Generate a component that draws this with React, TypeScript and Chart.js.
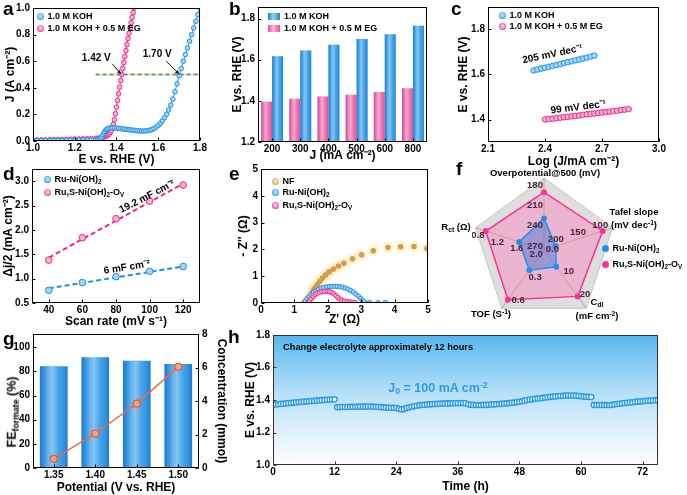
import React, { useEffect, useRef } from "react";
import { Chart, registerables } from "chart.js";

Chart.register(...registerables);

const SANS = '"Liberation Sans", Arial, Helvetica, sans-serif';
Chart.defaults.font.family = SANS;
Chart.defaults.color = "#000";

/* ======================= DATA ======================= */
// (a) polarisation curves
const aKohE = [1.00,1.02,1.04,1.06,1.08,1.10,1.12,1.14,1.16,1.18,1.20,1.22,1.24,1.26,1.28,1.30,1.31,1.32,1.325,1.33,1.335,1.34,1.345,1.35,1.355,1.36,1.37,1.38,1.39,1.40,1.41,1.42,1.43,1.44,1.45,1.46,1.47,1.48,1.49,1.50,1.51,1.52,1.53,1.54,1.55,1.56,1.57,1.58,1.59,1.60,1.61,1.62,1.63,1.64,1.65,1.66,1.67,1.68,1.69,1.70,1.71,1.72,1.73,1.74,1.75,1.76,1.77,1.78,1.79,1.80];
const aKohJ = [0.004,0.004,0.004,0.005,0.005,0.005,0.005,0.005,0.006,0.006,0.006,0.006,0.007,0.007,0.007,0.008,0.009,0.012,0.020,0.032,0.048,0.062,0.074,0.083,0.090,0.095,0.099,0.100,0.099,0.097,0.095,0.093,0.091,0.089,0.087,0.085,0.083,0.081,0.079,0.077,0.076,0.075,0.075,0.076,0.078,0.081,0.086,0.094,0.104,0.117,0.133,0.152,0.175,0.202,0.233,0.270,0.315,0.370,0.430,0.490,0.545,0.600,0.650,0.700,0.750,0.800,0.850,0.900,0.950,1.000];
const aEgE = [1.00,1.02,1.04,1.06,1.08,1.10,1.12,1.14,1.16,1.18,1.20,1.22,1.24,1.26,1.28,1.30,1.31,1.32,1.33,1.34,1.345,1.35,1.355,1.36,1.365,1.37,1.375,1.38,1.385,1.39,1.395,1.40,1.405,1.41,1.415,1.42,1.425,1.43,1.435,1.44,1.445,1.45,1.455,1.46,1.465,1.47,1.475,1.48,1.485];
const aEgJ = [0.008,0.008,0.009,0.009,0.010,0.010,0.011,0.011,0.012,0.013,0.014,0.015,0.016,0.017,0.018,0.020,0.021,0.022,0.025,0.030,0.033,0.036,0.040,0.045,0.052,0.063,0.078,0.098,0.125,0.160,0.205,0.255,0.305,0.355,0.405,0.455,0.500,0.545,0.590,0.635,0.680,0.725,0.770,0.810,0.850,0.890,0.930,0.965,1.000];
const aRefE = [1.30, 1.80];
const aRefJ = [0.5, 0.5];
const aTicksE = [1.0, 1.2, 1.4, 1.6, 1.8];
const aTicksJ = [0, 0.2, 0.4, 0.6, 0.8, 1.0];

// (b) potentials at current densities
const bCurrents = ["200", "300", "400", "500", "600", "800"];
const bKoh = [1.617, 1.645, 1.673, 1.700, 1.723, 1.765];
const bEg = [1.396, 1.410, 1.421, 1.430, 1.443, 1.461];
const bTicksE = [1.2, 1.4, 1.6, 1.8];

// (c) Tafel plots
const cKohLog = [2.34,2.36,2.38,2.40,2.42,2.44,2.46,2.48,2.50,2.52,2.54,2.56,2.58,2.60,2.62,2.64,2.66];
const cKohE = [1.618,1.622,1.626,1.630,1.634,1.638,1.642,1.646,1.651,1.655,1.659,1.663,1.667,1.671,1.675,1.680,1.684];
const cEgLog = [2.40,2.42,2.44,2.46,2.48,2.50,2.52,2.54,2.56,2.58,2.60,2.62,2.64,2.66,2.68,2.70,2.72,2.74,2.76,2.78,2.80,2.82,2.84];
const cEgE = [1.400,1.402,1.404,1.406,1.408,1.410,1.412,1.414,1.416,1.418,1.421,1.423,1.425,1.427,1.429,1.431,1.433,1.435,1.437,1.439,1.442,1.444,1.446];
const cTicksLog = [2.1, 2.4, 2.7, 3.0];
const cTicksE = [1.4, 1.6, 1.8];

// (d) double-layer capacitance
const dScanRates = [40, 60, 80, 100, 120];
const dRuNi = [0.76, 0.92, 1.04, 1.15, 1.25];
const dRuS = [1.38, 1.84, 2.23, 2.59, 2.92];
const dFitRates = [40, 120];
const dFitRuNi = [0.80, 1.25];
const dFitRuS = [1.43, 2.95];
const dTicksRate = [40, 60, 80, 100, 120];
const dTicksJ = [0.5, 1.0, 1.5, 2.0, 2.5, 3.0];

// (e) Nyquist plots
const eNfRe = [1.38,1.41,1.44,1.47,1.50,1.54,1.58,1.63,1.69,1.76,1.84,1.93,2.04,2.17,2.32,2.48,2.74,3.01,3.36,3.80,4.18,4.58,4.97];
const eNfIm = [0.00,0.07,0.15,0.23,0.31,0.40,0.49,0.59,0.70,0.81,0.93,1.04,1.16,1.27,1.38,1.48,1.65,1.80,1.95,2.07,2.10,2.11,2.03];
const eRuNiRe = [1.28,1.33,1.38,1.44,1.50,1.57,1.64,1.72,1.80,1.88,1.96,2.04,2.12,2.20,2.28,2.36,2.44,2.52,2.60,2.68,2.76,2.84,2.92,2.98,3.04,3.10,3.25,3.50,3.72];
const eRuNiIm = [0.00,0.08,0.16,0.24,0.32,0.39,0.45,0.51,0.55,0.58,0.60,0.615,0.62,0.625,0.62,0.61,0.59,0.56,0.52,0.47,0.41,0.33,0.25,0.17,0.09,0.04,0.02,0.01,0.02];
const eRuSRe = [1.40,1.45,1.50,1.56,1.62,1.68,1.75,1.82,1.90,1.98,2.05,2.12,2.18,2.24,2.30,2.36,2.42,2.50,2.58,2.66,2.74,2.82];
const eRuSIm = [0.00,0.08,0.16,0.24,0.31,0.36,0.40,0.42,0.43,0.43,0.42,0.39,0.34,0.28,0.21,0.15,0.10,0.07,0.05,0.04,0.03,0.02];
const eTicks = [0, 1, 2, 3, 4, 5];

// (f) radar comparison
const fAxisNames = ["Overpotential@500 (mV)", "Tafel slope (mV dec⁻¹)", "Cdl (mF cm⁻²)", "TOF (S⁻¹)", "Rct (Ω)"];
const fRuNi = [229, 205, 6, 0.26, 1.63];
const fRuS = [190, 99, 19.2, 0.64, 0.94];
const fAxisCenter = [276, 231, -1.5, 0, 2.14];
const fAxisOuter = [169, 77, 24.5, 0.75, 0.73];
const fTickValues = [[270, 240, 210, 180], [200, 150, 100], [0, 10, 20], [0.3, 0.6], [2.0, 1.6, 1.2, 0.8]];
const fTickLabels = [["270", "240", "210", "180"], ["200", "150", "100"], ["0.0", "10", "20"], ["0.3", "0.6"], ["2.0", "1.6", "1.2", "0.8"]];

// (g) Faradaic efficiency & concentration
const gPotentials = ["1.35", "1.40", "1.45", "1.50"];
const gFE = [84.2, 91.8, 88.8, 86.1];
const gConc = [0.55, 2.06, 3.84, 6.04];
const gTicksFE = [0, 20, 40, 60, 80, 100];
const gTicksConc = [0, 2, 4, 6, 8];

// (h) stability test (one reading every half hour)
const hInterval = 0.5;
const hVoltage = [
  1.370,1.372,1.374,1.376,1.377,1.379,1.381,1.382,1.384,1.385,1.387,1.388,1.390,1.391,1.392,1.394,1.395,1.396,1.398,1.399,1.400,1.401,1.402,1.403,1.404,
  1.356,1.356,1.357,1.357,1.357,1.358,1.358,1.358,1.358,1.359,1.359,1.359,1.360,1.360,1.359,1.358,1.357,1.356,1.355,1.354,1.353,1.352,1.352,1.351,
  1.346,1.342,1.344,1.350,1.354,1.358,1.362,1.365,1.367,1.369,1.370,1.372,1.373,1.374,1.375,1.376,1.377,1.378,1.378,1.379,1.379,1.380,1.380,1.380,1.381,1.381,1.380,
  1.374,1.371,1.370,1.369,1.369,1.369,1.370,1.370,1.371,1.372,1.373,1.374,1.375,1.376,1.378,1.379,1.381,1.383,1.385,1.387,1.389,
  1.392,1.396,1.400,1.403,1.405,1.407,1.409,1.411,1.413,1.415,1.417,1.419,1.421,1.422,1.424,1.425,1.426,1.427,1.428,1.428,1.428,1.427,1.425,1.423,1.421,1.420,1.419,1.418,
  1.370,1.369,1.369,1.369,1.369,1.369,1.369,1.370,1.372,1.375,1.377,1.379,1.381,1.383,1.385,1.386,1.388,1.390,1.391,1.393,1.394,1.395,1.396,1.397,1.398,1.399,
];
const hTicksT = [0, 12, 24, 36, 48, 60, 72];
const hTicksE = [1.0, 1.2, 1.4, 1.6, 1.8];

/* ======================= STYLE ======================= */
const BLUE = "#1e90e6";
const BLUE_L = "#a3d8fa";
const PINK = "#f0258a";
const PINK_L = "#fab3d5";
const TAN = "#d49a55";

const TICK_FONT = { size: 10, weight: "bold" as const };
const TITLE_FONT = { size: 12, weight: "bold" as const };

type Box = { left: number; top: number; width: number; height: number };

function frame(L: number, T: number, R: number, B: number, yw: number, xh: number, padR = 10, rw = 0, padT = 7) {
  return {
    box: { left: L - yw, top: T - padT, width: R - L + yw + (rw || padR), height: B - T + padT + xh } as Box,
    padding: { top: padT, right: rw ? 0 : padR, left: 0, bottom: 0 },
  };
}

function axisCommon(fit: number, title?: string) {
  return {
    afterFit: (s: any) => {
      if (s.isHorizontal()) s.height = fit;
      else s.width = fit;
    },
    grid: { display: false, drawTicks: false, drawOnChartArea: false, offset: false },
    border: { display: false },
    title: { display: !!title, text: title || "", font: TITLE_FONT, color: "#000", padding: { top: 4, bottom: 4 } },
  };
}

function linAxis(o: { min: number; max: number; ticks: number[]; dec: number; fit: number; title?: string; position?: string; horizontal?: boolean }) {
  return {
    type: "linear",
    position: o.position,
    min: o.min,
    max: o.max,
    afterBuildTicks: (s: any) => {
      s.ticks = o.ticks.map((v) => ({ value: v }));
    },
    ticks: { font: TICK_FONT, color: "#000", padding: o.horizontal ? 1 : 3, maxRotation: 0, autoSkip: false, callback: (v: any) => Number(v).toFixed(o.dec) },
    ...axisCommon(o.fit, o.title),
  };
}

function catAxis(o: { fit: number; title?: string }) {
  return {
    type: "category",
    offset: true,
    ticks: { font: TICK_FONT, color: "#000", padding: 1, maxRotation: 0, autoSkip: false },
    ...axisCommon(o.fit, o.title),
  };
}

function baseOptions(padding: any, scales: any) {
  return {
    responsive: true,
    maintainAspectRatio: false,
    animation: false,
    events: [],
    layout: { padding },
    plugins: { legend: { display: false }, tooltip: { enabled: false } },
    scales,
  };
}

const pts = (xs: number[], ys: number[]) => xs.map((x, i) => ({ x, y: ys[i] }));

/* ======================= PLUGINS ======================= */
// Frame around the plot area plus short inward tick marks on each axis side.
const framePlugin = (color = "#000") => ({
  id: "frame",
  afterDraw(chart: any) {
    const { ctx, chartArea: a } = chart;
    ctx.save();
    ctx.strokeStyle = color;
    ctx.lineWidth = 1;
    const l = Math.round(a.left) + 0.5;
    const t = Math.round(a.top) + 0.5;
    const r = Math.round(a.right) - 0.5;
    const b = Math.round(a.bottom) - 0.5;
    ctx.strokeRect(l, t, r - l, b - t);
    ctx.beginPath();
    for (const id of Object.keys(chart.scales)) {
      const s = chart.scales[id];
      s.ticks.forEach((tk: any, i: number) => {
        const p = Math.round(s.type === "category" ? s.getPixelForTick(i) : s.getPixelForValue(tk.value)) + 0.5;
        if (s.isHorizontal()) {
          ctx.moveTo(p, b);
          ctx.lineTo(p, b - 3);
        } else if (s.position === "right") {
          ctx.moveTo(r, p);
          ctx.lineTo(r - 3, p);
        } else {
          ctx.moveTo(l, p);
          ctx.lineTo(l + 3, p);
        }
      });
    }
    ctx.stroke();
    ctx.restore();
  },
});

type Note = { text: string; x: number; y: number; rot?: number; size?: number; color?: string; arrow?: number[] };
const notesPlugin = (notes: Note[]) => ({
  id: "notes",
  afterDatasetsDraw(chart: any) {
    const { ctx, scales } = chart;
    const xs = scales.x;
    const ys = scales.y;
    for (const n of notes) {
      ctx.save();
      if (n.arrow) {
        const x0 = xs.getPixelForValue(n.arrow[0]);
        const y0 = ys.getPixelForValue(n.arrow[1]);
        const x1 = xs.getPixelForValue(n.arrow[2]);
        const y1 = ys.getPixelForValue(n.arrow[3]);
        ctx.strokeStyle = "#222";
        ctx.fillStyle = "#222";
        ctx.lineWidth = 1;
        ctx.beginPath();
        ctx.moveTo(x0, y0);
        ctx.lineTo(x1, y1);
        ctx.stroke();
        const ang = Math.atan2(y1 - y0, x1 - x0);
        ctx.beginPath();
        ctx.moveTo(x1, y1);
        ctx.lineTo(x1 - 5 * Math.cos(ang - 0.4), y1 - 5 * Math.sin(ang - 0.4));
        ctx.lineTo(x1 - 5 * Math.cos(ang + 0.4), y1 - 5 * Math.sin(ang + 0.4));
        ctx.closePath();
        ctx.fill();
      }
      ctx.translate(xs.getPixelForValue(n.x), ys.getPixelForValue(n.y));
      ctx.rotate(((n.rot || 0) * Math.PI) / 180);
      ctx.font = `bold ${n.size || 10}px ${SANS}`;
      ctx.fillStyle = n.color || "#000";
      ctx.textAlign = "center";
      ctx.textBaseline = "middle";
      ctx.fillText(n.text, 0, 0);
      ctx.restore();
    }
  },
});

const cylinderPlugin = {
  id: "cylinder",
  afterDatasetDraw(chart: any, args: any) {
    const meta = args.meta;
    if (meta.type !== "bar") return;
    const { ctx, chartArea: a } = chart;
    ctx.save();
    ctx.beginPath();
    ctx.rect(a.left, a.top, a.right - a.left, a.bottom - a.top);
    ctx.clip();
    for (const el of meta.data) {
      const { x, y, base, width } = el.getProps(["x", "y", "base", "width"], true);
      const l = x - width / 2;
      const g = ctx.createLinearGradient(l, 0, l + width, 0);
      g.addColorStop(0, "rgba(0,50,140,0.22)");
      g.addColorStop(0.3, "rgba(255,255,255,0.30)");
      g.addColorStop(0.45, "rgba(255,255,255,0.45)");
      g.addColorStop(0.7, "rgba(255,255,255,0.12)");
      g.addColorStop(1, "rgba(0,50,140,0.25)");
      ctx.fillStyle = g;
      ctx.fillRect(l, Math.min(y, base), width, Math.abs(base - y));
    }
    ctx.restore();
  },
};

const skyPlugin = {
  id: "sky",
  beforeDraw(chart: any) {
    const { ctx, chartArea: a } = chart;
    const g = ctx.createLinearGradient(0, a.top, 0, a.bottom);
    g.addColorStop(0, "#55b7ee");
    g.addColorStop(0.45, "#b8e0f8");
    g.addColorStop(1, "#ffffff");
    ctx.save();
    ctx.fillStyle = g;
    ctx.fillRect(a.left, a.top, a.right - a.left, a.bottom - a.top);
    ctx.restore();
  },
};

const fNorm = (i: number, v: number) => (fAxisCenter[i] - v) / (fAxisCenter[i] - fAxisOuter[i]);
const RADAR_TICK_OFFSETS = [[-9, 0], [-2, -6], [6, -4], [8, 4], [-1, 7]];
const radarTicksPlugin = {
  id: "radarTicks",
  afterDatasetsDraw(chart: any) {
    const r = chart.scales.r;
    const ctx = chart.ctx;
    ctx.save();
    ctx.font = `bold 9.5px ${SANS}`;
    ctx.fillStyle = "#4a2236";
    ctx.textAlign = "center";
    ctx.textBaseline = "middle";
    fTickValues.forEach((vals, i) => {
      vals.forEach((v, k) => {
        const p = r.getPointPositionForValue(i, fNorm(i, v));
        ctx.fillText(fTickLabels[i][k], p.x + RADAR_TICK_OFFSETS[i][0], p.y + RADAR_TICK_OFFSETS[i][1]);
      });
    });
    ctx.restore();
  },
};

/* ======================= PANELS ======================= */
const geoA = frame(33, 6, 200, 141, 34, 30, 10);
const makeA = () => ({
  type: "scatter",
  data: {
    datasets: [
      { data: pts(aKohE, aKohJ), showLine: true, borderColor: BLUE, borderWidth: 1, pointRadius: 2.3, pointBorderWidth: 1, pointBorderColor: BLUE, pointBackgroundColor: BLUE_L },
      { data: pts(aEgE, aEgJ), showLine: true, borderColor: PINK, borderWidth: 1, pointRadius: 2.3, pointBorderWidth: 1, pointBorderColor: PINK, pointBackgroundColor: PINK_L },
      { data: pts(aRefE, aRefJ), showLine: true, borderColor: "#2a8fd8", borderWidth: 1.6, borderDash: [4, 3], pointRadius: 0 },
      { data: pts(aRefE, aRefJ), showLine: true, borderColor: "#f8f0a0", borderWidth: 3, pointRadius: 0 },
    ],
  },
  options: baseOptions(geoA.padding, {
    x: linAxis({ min: 1.0, max: 1.8, ticks: aTicksE, dec: 1, fit: 30, title: "E vs. RHE (V)", horizontal: true }),
    y: linAxis({ min: 0, max: 1.0, ticks: aTicksJ, dec: 1, fit: 34, title: "J (A cm⁻²)" }),
  }),
  plugins: [
    notesPlugin([
      { text: "1.42 V", x: 1.303, y: 0.624, arrow: [1.38, 0.58, 1.423, 0.5] },
      { text: "1.70 V", x: 1.595, y: 0.65, arrow: [1.638, 0.6, 1.702, 0.5] },
    ]),
    framePlugin(),
  ],
});

const geoB = frame(258, 5, 427, 142, 32, 25, 10);
const makeB = () => ({
  type: "bar",
  data: {
    labels: bCurrents,
    datasets: [
      { data: bEg, backgroundColor: "#f45ea4", categoryPercentage: 0.78, barPercentage: 1 },
      { data: bKoh, backgroundColor: "#2596e8", categoryPercentage: 0.78, barPercentage: 1 },
    ],
  },
  options: baseOptions(geoB.padding, {
    x: catAxis({ fit: 25, title: "J (mA cm⁻²)" }),
    y: linAxis({ min: 1.2, max: 1.856, ticks: bTicksE, dec: 1, fit: 32, title: "E vs. RHE (V)" }),
  }),
  plugins: [cylinderPlugin, framePlugin()],
});

const geoC = frame(488, 5, 659, 142, 36, 31, 12);
const makeC = () => ({
  type: "scatter",
  data: {
    datasets: [
      { data: pts(cKohLog, cKohE), pointRadius: 2.8, pointBorderWidth: 1, pointBorderColor: BLUE, pointBackgroundColor: BLUE_L },
      { data: pts(cEgLog, cEgE), pointRadius: 2.8, pointBorderWidth: 1, pointBorderColor: PINK, pointBackgroundColor: PINK_L },
    ],
  },
  options: baseOptions(geoC.padding, {
    x: linAxis({ min: 2.1, max: 3.0, ticks: cTicksLog, dec: 1, fit: 31, title: "Log (J/mA cm⁻²)", horizontal: true }),
    y: linAxis({ min: 1.3, max: 1.9, ticks: cTicksE, dec: 1, fit: 36, title: "E vs. RHE (V)" }),
  }),
  plugins: [
    notesPlugin([
      { text: "205 mV dec⁻¹", x: 2.44, y: 1.69, rot: -12 },
      { text: "99 mV dec⁻¹", x: 2.575, y: 1.454, rot: -7 },
    ]),
    framePlugin(),
  ],
});

const geoD = frame(32, 167, 200, 303, 35, 30, 10);
const makeD = () => ({
  type: "scatter",
  data: {
    datasets: [
      { data: pts(dScanRates, dRuS), pointRadius: 3.3, pointBorderWidth: 1, pointBorderColor: PINK, pointBackgroundColor: PINK_L },
      { data: pts(dScanRates, dRuNi), pointRadius: 3.3, pointBorderWidth: 1, pointBorderColor: BLUE, pointBackgroundColor: BLUE_L },
      { data: pts(dFitRates, dFitRuS), showLine: true, borderColor: PINK, borderWidth: 2, borderDash: [5, 3], pointRadius: 0 },
      { data: pts(dFitRates, dFitRuNi), showLine: true, borderColor: BLUE, borderWidth: 2, borderDash: [5, 3], pointRadius: 0 },
    ],
  },
  options: baseOptions(geoD.padding, {
    x: linAxis({ min: 30, max: 130, ticks: dTicksRate, dec: 0, fit: 30, title: "Scan rate (mV s⁻¹)", horizontal: true }),
    y: linAxis({ min: 0.5, max: 3.25, ticks: dTicksJ, dec: 1, fit: 35, title: "Δj/2 (mA cm⁻²)" }),
  }),
  plugins: [
    notesPlugin([
      { text: "19.2 mF cm⁻²", x: 98.5, y: 2.68, rot: -27 },
      { text: "6 mF cm⁻²", x: 86.5, y: 1.23, rot: -9 },
    ]),
    framePlugin(),
  ],
});

const geoE = frame(261, 167, 428, 303, 29, 28, 10);
const makeE = () => ({
  type: "scatter",
  data: {
    datasets: [
      { data: pts(eRuSRe, eRuSIm), showLine: true, borderColor: PINK, borderWidth: 1, pointRadius: 2.2, pointBorderWidth: 1, pointBorderColor: PINK, pointBackgroundColor: PINK_L },
      { data: pts(eRuNiRe, eRuNiIm), showLine: true, borderColor: BLUE, borderWidth: 1, pointRadius: 2.2, pointBorderWidth: 1, pointBorderColor: BLUE, pointBackgroundColor: BLUE_L },
      { data: pts(eNfRe, eNfIm), pointRadius: 2.8, pointBorderWidth: 0, pointBackgroundColor: TAN },
      { data: pts(eNfRe, eNfIm), pointRadius: 6, pointBorderWidth: 0, pointBackgroundColor: "rgba(250,238,170,0.55)" },
    ],
  },
  options: baseOptions(geoE.padding, {
    x: linAxis({ min: 0, max: 5, ticks: eTicks, dec: 0, fit: 28, title: "Z' (Ω)", horizontal: true }),
    y: linAxis({ min: 0, max: 5, ticks: eTicks, dec: 0, fit: 29, title: "- Z'' (Ω)" }),
  }),
  plugins: [framePlugin()],
});

const boxF: Box = { left: 472, top: 178, width: 144, height: 144 };
const makeF = () => ({
  type: "radar",
  data: {
    labels: fAxisNames,
    datasets: [
      { data: fRuNi.map((v, i) => fNorm(i, v)), borderColor: "#1f8ff0", backgroundColor: "rgba(55,115,215,0.45)", borderWidth: 1.5, pointRadius: 2.2, pointBackgroundColor: "#1f8ff0", pointBorderColor: "#1f8ff0", fill: true },
      { data: fRuS.map((v, i) => fNorm(i, v)), borderColor: "#ff2f95", backgroundColor: "rgba(250,130,190,0.45)", borderWidth: 1.5, pointRadius: 2.2, pointBackgroundColor: "#ff2f95", pointBorderColor: "#ff2f95", fill: true },
    ],
  },
  options: {
    responsive: true,
    maintainAspectRatio: false,
    animation: false,
    events: [],
    layout: { padding: 0 },
    elements: { line: { tension: 0 } },
    plugins: { legend: { display: false }, tooltip: { enabled: false } },
    scales: {
      r: {
        min: 0,
        max: 1,
        ticks: { display: false, stepSize: 1 },
        grid: { color: "#c4c4c4", lineWidth: 1 },
        angleLines: { color: "#c9a27c", lineWidth: 1 },
        pointLabels: { display: false },
        backgroundColor: "#dedede",
      },
    },
  },
  plugins: [radarTicksPlugin],
});

const geoG = frame(33, 332, 199, 468, 31, 31, 0, 34);
const makeG = () => ({
  type: "bar",
  data: {
    labels: gPotentials,
    datasets: [
      { type: "line", data: gConc, yAxisID: "y2", borderColor: "#ee6a3e", borderWidth: 1.5, pointRadius: 3.5, pointBorderWidth: 1.2, pointBorderColor: "#e8552f", pointBackgroundColor: "#f7a57f" },
      { type: "bar", data: gFE, yAxisID: "y", backgroundColor: "#2393e6", categoryPercentage: 1, barPercentage: 0.667 },
    ],
  },
  options: baseOptions(geoG.padding, {
    x: catAxis({ fit: 31, title: "Potential (V vs. RHE)" }),
    y: linAxis({ min: 0, max: 111, ticks: gTicksFE, dec: 0, fit: 31 }),
    y2: linAxis({ min: 0, max: 8, ticks: gTicksConc, dec: 0, fit: 34, title: "Concentration (mmol)", position: "right" }),
  }),
  plugins: [cylinderPlugin, framePlugin()],
});

const geoH = frame(273, 333, 658, 465, 34, 33, 12);
const makeH = () => ({
  type: "scatter",
  data: {
    datasets: [
      { data: hVoltage.map((v, i) => ({ x: i * hInterval, y: v })), pointRadius: 2.6, pointBorderWidth: 1.4, pointBorderColor: "#2a9de8", pointBackgroundColor: "#ffffff" },
    ],
  },
  options: baseOptions(geoH.padding, {
    x: linAxis({ min: 0, max: 75, ticks: hTicksT, dec: 0, fit: 33, title: "Time (h)", horizontal: true }),
    y: linAxis({ min: 1.0, max: 1.8, ticks: hTicksE, dec: 1, fit: 34, title: "E vs. RHE (V)" }),
  }),
  plugins: [skyPlugin, framePlugin("#333")],
});

/* ======================= REACT ======================= */
function ChartPanel({ box, make }: { box: Box; make: () => any }) {
  const ref = useRef<HTMLCanvasElement | null>(null);
  useEffect(() => {
    if (!ref.current) return;
    const chart = new Chart(ref.current, make());
    return () => chart.destroy();
  }, []);
  return (
    <div style={{ position: "absolute", left: box.left, top: box.top, width: box.width, height: box.height }}>
      <canvas ref={ref} />
    </div>
  );
}

const Sub = ({ children }: { children: any }) => (
  <sub style={{ fontSize: "0.7em", verticalAlign: "-0.3em", lineHeight: 0 }}>{children}</sub>
);
const Sup = ({ children }: { children: any }) => (
  <sup style={{ fontSize: "0.7em", verticalAlign: "0.45em", lineHeight: 0 }}>{children}</sup>
);

function Txt({ x, y, children, size = 9.5, color = "#000", anchor = "center" }: { x: number; y: number; children: any; size?: number; color?: string; anchor?: string }) {
  return (
    <div
      style={{
        position: "absolute",
        left: x,
        top: y,
        transform: anchor === "center" ? "translate(-50%,-50%)" : "translateY(-50%)",
        fontSize: size,
        fontWeight: "bold",
        color,
        whiteSpace: "nowrap",
        lineHeight: 1,
      }}
    >
      {children}
    </div>
  );
}

function Letter({ x, y, ch }: { x: number; y: number; ch: string }) {
  return (
    <div style={{ position: "absolute", left: x, top: y, fontSize: 19, lineHeight: "19px", fontWeight: "bold", color: "#000" }}>{ch}</div>
  );
}

function Marker({ kind, color, light }: { kind: string; color: string; light: string }) {
  if (kind === "rect")
    return <span style={{ display: "inline-block", width: 12, height: 7, background: `linear-gradient(90deg, ${color}, ${light} 45%, ${color})` }} />;
  return (
    <span
      style={{
        display: "inline-block",
        width: 7,
        height: 7,
        borderRadius: "50%",
        background: `radial-gradient(circle at 50% 45%, ${light} 0%, ${light} 30%, ${color} 80%)`,
      }}
    />
  );
}

function LegendRow({ x, y, kind = "dot", color, light, children }: { x: number; y: number; kind?: string; color: string; light: string; children: any }) {
  return (
    <div
      style={{
        position: "absolute",
        left: x,
        top: y - 6,
        height: 12,
        display: "flex",
        alignItems: "center",
        gap: 4,
        fontSize: 9,
        fontWeight: "bold",
        whiteSpace: "nowrap",
        lineHeight: 1,
        color: "#000",
      }}
    >
      <Marker kind={kind} color={color} light={light} />
      <span>{children}</span>
    </div>
  );
}

export default function App() {
  return (
    <div
      style={{
        position: "absolute",
        left: 0,
        top: 0,
        width: 687,
        height: 495,
        overflow: "hidden",
        background: "#fff",
        fontFamily: SANS,
      }}
    >
      <ChartPanel box={geoA.box} make={makeA} />
      <ChartPanel box={geoB.box} make={makeB} />
      <ChartPanel box={geoC.box} make={makeC} />
      <ChartPanel box={geoD.box} make={makeD} />
      <ChartPanel box={geoE.box} make={makeE} />
      <ChartPanel box={boxF} make={makeF} />
      <ChartPanel box={geoG.box} make={makeG} />
      <ChartPanel box={geoH.box} make={makeH} />

      {/* panel letters */}
      <Letter x={3} y={-1} ch="a" />
      <Letter x={229} y={-1} ch="b" />
      <Letter x={451} y={-1} ch="c" />
      <Letter x={3} y={164} ch="d" />
      <Letter x={229} y={164} ch="e" />
      <Letter x={456} y={159} ch="f" />
      <Letter x={3} y={329} ch="g" />
      <Letter x={228} y={327} ch="h" />

      {/* legends */}
      <LegendRow x={36.5} y={16} color={BLUE} light={BLUE_L}>1.0 M KOH</LegendRow>
      <LegendRow x={36.5} y={28} color={PINK} light={PINK_L}>1.0 M KOH + 0.5 M EG</LegendRow>

      <LegendRow x={268} y={16} kind="rect" color="#1a84d8" light="#8fd0fa">1.0 M KOH</LegendRow>
      <LegendRow x={268} y={28} kind="rect" color="#ef4c98" light="#fbb6d6">1.0 M KOH + 0.5 M EG</LegendRow>

      <LegendRow x={498.5} y={15} color={BLUE} light={BLUE_L}>1.0 M KOH</LegendRow>
      <LegendRow x={498.5} y={26} color={PINK} light={PINK_L}>1.0 M KOH + 0.5 M EG</LegendRow>

      <LegendRow x={43.5} y={179} color={BLUE} light={BLUE_L}>
        Ru-Ni(OH)<Sub>2</Sub>
      </LegendRow>
      <LegendRow x={43.5} y={192} color={PINK} light={PINK_L}>
        Ru,S-Ni(OH)<Sub>2</Sub>-O<Sub>V</Sub>
      </LegendRow>

      <LegendRow x={271.5} y={181} color={TAN} light="#f3d9a8">NF</LegendRow>
      <LegendRow x={271.5} y={192} color={BLUE} light={BLUE_L}>
        Ru-Ni(OH)<Sub>2</Sub>
      </LegendRow>
      <LegendRow x={271.5} y={205} color={PINK} light={PINK_L}>
        Ru,S-Ni(OH)<Sub>2</Sub>-O<Sub>V</Sub>
      </LegendRow>

      <LegendRow x={601.5} y={248} color="#1f8ff0" light="#1f8ff0">
        Ru-Ni(OH)<Sub>2</Sub>
      </LegendRow>
      <LegendRow x={601.5} y={264} color="#ff2f95" light="#ff2f95">
        Ru,S-Ni(OH)<Sub>2</Sub>-O<Sub>V</Sub>
      </LegendRow>

      {/* radar axis names */}
      <Txt x={545} y={173}>Overpotential@500 (mV)</Txt>
      <Txt x={634} y={212}>Tafel slope</Txt>
      <Txt x={634} y={225}>
        (mV dec<Sup>-1</Sup>)
      </Txt>
      <Txt x={597} y={302}>
        C<Sub>dl</Sub>
      </Txt>
      <Txt x={597} y={316}>
        (mF cm<Sup>-2</Sup>)
      </Txt>
      <Txt x={491} y={314}>
        TOF (S<Sup>-1</Sup>)
      </Txt>
      <Txt x={456} y={227}>
        R<Sub>ct</Sub> (Ω)
      </Txt>

      {/* panel g left axis title */}
      <div
        style={{
          position: "absolute",
          left: 12,
          top: 412,
          transform: "translate(-50%,-50%) rotate(-90deg)",
          fontSize: 12.5,
          fontWeight: "bold",
          whiteSpace: "nowrap",
          lineHeight: 1,
        }}
      >
        FE<Sub>formate</Sub> (%)
      </div>

      {/* panel h annotations */}
      <Txt x={283} y={348} size={9.3} anchor="left">
        Change electrolyte approximately 12 hours
      </Txt>
      <Txt x={438} y={388} size={12.5} color="#2b9be6">
        J<Sub>0</Sub> = 100 mA cm<Sup>-2</Sup>
      </Txt>
    </div>
  );
}
